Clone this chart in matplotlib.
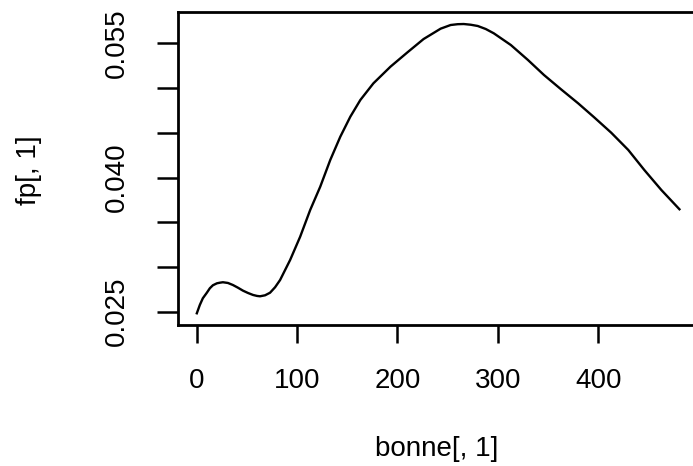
import matplotlib
matplotlib.use("Agg")
import matplotlib.pyplot as plt

# Data (kernel-density-like curve)
bonne_x = [0, 3, 6, 10, 13, 16, 20, 23, 26, 31, 36, 41, 46, 51, 56, 60, 63,
           68, 73, 78, 83, 93, 103, 113, 123, 133, 143, 153, 163, 176, 193,
           210, 226, 243, 253, 260, 266, 273, 280, 288, 296, 313, 330, 346,
           363, 380, 396, 413, 430, 446, 463, 481]
fp_y = [0.02482, 0.02575, 0.02650, 0.02712, 0.02762, 0.02795, 0.02817,
        0.02824, 0.02829, 0.02821, 0.02798, 0.02768, 0.02735, 0.02709,
        0.02687, 0.02676, 0.02672, 0.02683, 0.02712, 0.02773, 0.02854,
        0.03078, 0.03338, 0.03637, 0.03897, 0.04196, 0.04456, 0.04680,
        0.04867, 0.05053, 0.05239, 0.05400, 0.05548, 0.05664, 0.05705,
        0.05714, 0.05716, 0.05708, 0.05694, 0.05660, 0.05612, 0.05481,
        0.05314, 0.05146, 0.04986, 0.04830, 0.04673, 0.04501, 0.04308,
        0.04084, 0.03860, 0.03645]

x_ticks = [0, 100, 200, 300, 400]
x_ticklabels = ["0", "100", "200", "300", "400"]
y_ticks = [0.025, 0.030, 0.035, 0.040, 0.045, 0.050, 0.055]
y_ticklabels = ["0.025", "", "", "0.040", "", "", "0.055"]

plt.rcParams['font.family'] = ['Liberation Sans', 'DejaVu Sans']

W, H = 693, 466
fig = plt.figure(figsize=(W / 100, H / 100), dpi=100)
left_px, right_px, top_px, bottom_px = 177.5, 699.0, 12.3, 325.0
ax = fig.add_axes([left_px / W, 1 - bottom_px / H,
                   (right_px - left_px) / W, (bottom_px - top_px) / H])

ax.plot(bonne_x, fp_y, color='black', lw=1.7, solid_joinstyle='round')
ax.set_xlim(-19.25, 500.5)
ax.set_ylim(0.02351, 0.05847)

for s in ax.spines.values():
    s.set_linewidth(2.0)
    s.set_color('black')

ax.set_xticks(x_ticks)
ax.set_xticklabels(x_ticklabels)
ax.set_yticks(y_ticks)
ax.set_yticklabels(y_ticklabels, rotation=90, va='center')
ax.tick_params(axis='x', length=13, width=1.8, pad=18, labelsize=20)
ax.tick_params(axis='y', length=15, width=1.8, pad=19, labelsize=20)

fig.text(436.5 / W, 1 - 449 / H, "bonne[, 1]", ha='center', va='center', fontsize=20)
fig.text(28.7 / W, 1 - 170 / H, "fp[, 1]", ha='center', va='center',
         rotation=90, fontsize=20)

fig.savefig("out.png", dpi=100)
